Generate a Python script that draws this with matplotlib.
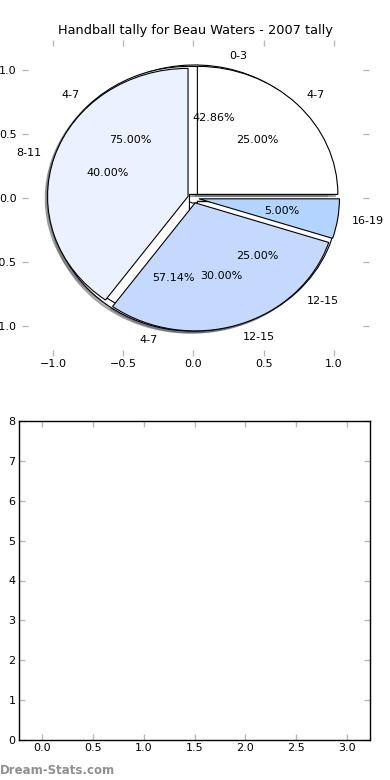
import matplotlib
matplotlib.use("Agg")
import matplotlib.pyplot as plt

TITLE = "Handball tally for Beau Waters - 2007 tally"

# three tallies drawn on the same axes, as in the original
PIE1_LABELS = ["0-3", "4-7"]
PIE1_VALUES = [3, 4]
PIE2_LABELS = ["4-7", "12-15"]
PIE2_VALUES = [3, 1]
PIE3_LABELS = ["4-7", "8-11", "12-15", "16-19"]
PIE3_VALUES = [25, 40, 30, 5]

PIE3_COLORS = ["#ffffff", "#ebf1ff", "#c5d9ff", "#b2d4ff"]

BAR_XTICKS = [0.0, 0.5, 1.0, 1.5, 2.0, 2.5, 3.0]
BAR_YTICKS = [0, 1, 2, 3, 4, 5, 6, 7, 8]


def style_ticks(ax, padx, pady):
    ax.tick_params(axis="both", direction="in", length=4, width=1,
                   color="#b8b8b8", labelsize=8, top=True, right=True)
    ax.tick_params(axis="x", pad=padx)
    ax.tick_params(axis="y", pad=pady)


def main():
    fig = plt.figure(figsize=(3.9, 7.8), dpi=100)

    ax = fig.add_axes([22 / 390, 1 - 356 / 780, 347 / 390, 316 / 780])
    wedge = dict(edgecolor="black", linewidth=0.8)
    shadow = dict(ox=-0.012, oy=-0.012, shade=0.6)
    ax.pie(PIE1_VALUES, labels=PIE1_LABELS, explode=[0.04] * 2,
           colors=["white", "white"], autopct="%1.2f%%", shadow=shadow,
           wedgeprops=wedge, textprops=dict(fontsize=8))
    ax.pie(PIE2_VALUES, labels=PIE2_LABELS, explode=[0.04] * 2,
           colors=["white", "white"], autopct="%1.2f%%", shadow=shadow,
           wedgeprops=wedge, textprops=dict(fontsize=8))
    ax.pie(PIE3_VALUES, labels=PIE3_LABELS, explode=[0.04] * 4,
           colors=PIE3_COLORS, autopct="%1.2f%%", shadow=shadow,
           wedgeprops=wedge, textprops=dict(fontsize=8))
    ax.set_aspect("auto")
    ax.set_frame_on(False)
    ax.set_xlim(-1.22, 1.25)
    ax.set_ylim(-1.234, 1.234)
    ax.set_xticks([-1.0, -0.5, 0.0, 0.5, 1.0])
    ax.set_yticks([-1.0, -0.5, 0.0, 0.5, 1.0])
    style_ticks(ax, 2.5, 4)
    ax.set_title(TITLE, fontsize=9.3, pad=4)

    ax2 = fig.add_axes([19 / 390, 40 / 780, 351 / 390, 319 / 780])
    ax2.set_xlim(-0.225, 3.225)
    ax2.set_ylim(0, 8)
    ax2.set_xticks(BAR_XTICKS)
    ax2.set_yticks(BAR_YTICKS)
    style_ticks(ax2, 2.5, 2.5)
    for s in ax2.spines.values():
        s.set_linewidth(1.0)

    fig.text(0.0, 10 / 780, "Dream-Stats.com", fontsize=8.5, color="#909090",
             ha="left", va="center", fontweight="semibold")

    fig.savefig("out.png", dpi=100)


if __name__ == "__main__":
    main()
